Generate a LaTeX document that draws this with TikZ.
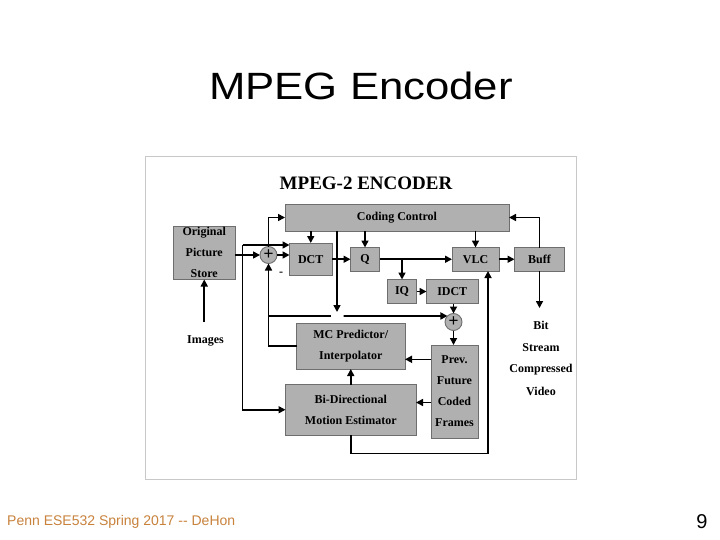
\documentclass[tikz,border=0pt]{standalone}
\usepackage{fontspec}
\setmainfont{Liberation Serif}
\newfontfamily\arialf{Liberation Sans}
\usetikzlibrary{arrows.meta}
\definecolor{boxfill}{RGB}{176,176,176}
\definecolor{boxline}{RGB}{110,110,110}
\definecolor{framec}{RGB}{200,200,200}
\definecolor{footc}{RGB}{200,130,60}
\begin{document}
\begin{tikzpicture}[x=1pt,y=-1pt,
  blk/.style={draw=boxline, fill=boxfill, line width=0.9pt, inner sep=0pt, outer sep=0pt,
    font=\fontsize{12}{21}\selectfont\bfseries, align=center},
  sumc/.style={circle, draw=boxline, fill=boxfill, line width=0.9pt, minimum size=17pt,
    inner sep=0pt, outer sep=0pt, font=\arialf\fontsize{17}{17}\selectfont},
  conn/.style={line width=1.6pt, -{Triangle[length=7pt,width=7pt]}},
  wire/.style={line width=1.6pt},
  lbl/.style={font=\fontsize{12}{21}\selectfont\bfseries, align=center, inner sep=0pt}
]
\useasboundingbox (0,0) rectangle (720,540);
\fill[white] (0,0) rectangle (720,540);

% slide texts
\node[font=\arialf\fontsize{38}{38}\selectfont, xscale=1.15, inner sep=0pt] (stitle) at (361,86) {MPEG Encoder};
\node[font=\arialf\fontsize{14}{14}\selectfont, text=footc, anchor=west, inner sep=0pt] (foot) at (7,522) {Penn ESE532 Spring 2017 \mbox{-}\mbox{-} DeHon};
\node[font=\arialf\fontsize{20}{20}\selectfont, inner sep=0pt] (pg) at (702,522) {9};

% frame of the figure
\node[draw=framec, line width=0.8pt, minimum width=431pt, minimum height=323pt, inner sep=0pt] (frame) at (360.5,317.5) {};

\node[font=\fontsize{19}{19}\selectfont\bfseries, inner sep=0pt] (dtitle) at (366,183.5) {MPEG-2 ENCODER};

% blocks
\node[blk, minimum width=224pt, minimum height=27pt] (cc) at (397,217.5) {Coding Control};
\node[blk, minimum width=61.5pt, minimum height=53.5pt] (ops) at (204.25,252.75) {Original\\Picture\\Store};
\node[blk, minimum width=42.5pt, minimum height=32.5pt] (dct) at (310.75,259.25) {DCT};
\node[blk, minimum width=29pt, minimum height=23.5pt] (q) at (365,259.25) {Q};
\node[blk, minimum width=47pt, minimum height=23.5pt] (vlc) at (475.5,259.25) {VLC};
\node[blk, minimum width=50pt, minimum height=23.5pt] (buff) at (539.5,259.25) {Buff};
\node[blk, minimum width=29pt, minimum height=24pt] (iq) at (402,291.5) {IQ};
\node[blk, minimum width=51.5pt, minimum height=24pt] (idct) at (452.25,291.5) {IDCT};
\node[blk, minimum width=108.5pt, minimum height=46pt] (mc) at (350.75,346) {MC Predictor/\\Interpolator};
\node[blk, minimum width=47pt, minimum height=93pt] (prev) at (454.5,391.5) {Prev.\\Future\\Coded\\Frames};
\node[blk, minimum width=130.5pt, minimum height=50.5pt] (bde) at (350.75,409.75) {Bi-Directional\\Motion Estimator};
\node[sumc] (p1) at (268.5,255) {+};
\node[sumc] (p2) at (453.5,322) {+};

% labels
\node[lbl] (imgs) at (205.5,340.7) {Images};
\node[lbl] (bit) at (541,325.6) {Bit};
\node[lbl] (stream) at (541,347.5) {Stream};
\node[lbl] (compr) at (541,369.2) {Compressed};
\node[lbl] (video) at (541,391) {Video};
\node[lbl] (minus) at (281,273.5) {-};

% coordinates
\coordinate (j1) at (242.5,245);
\coordinate (b1) at (268.5,316);
\coordinate (g1) at (330.5,316);
\coordinate (g2) at (343.5,316);
\coordinate (ccd) at (337,312);
\coordinate (bsd) at (539.5,308);
\coordinate (pm) at ([yshift=32.2pt]prev.west);
\coordinate (pb) at ([yshift=-11pt]prev.west);
\coordinate (vb) at ([xshift=12.5pt]vlc.south);
\coordinate (lowc) at (350.75,453.5);
\coordinate (imgtop) at (204.25,322);

% connectors
\draw[conn] (imgtop) -- (ops.south);
\draw[conn] (ops.east |- p1.west) -- (p1.west);
\draw[conn] (p1.east) -- (p1.east -| dct.west);
\draw[conn] (p1.north) |- (cc.west);
\draw[conn] (j1) -- (j1 -| dct.west);
\draw[conn] (j1) |- (bde.west);
\draw[conn] (mc.west) -| (p1.south);
\draw[wire] (b1) -- (g1);
\draw[conn] (g2) -- (p2.135);
\draw[conn] (cc.south -| ccd) -- (ccd);
\draw[conn] (cc.south -| dct.north) -- (dct.north);
\draw[conn] (cc.south -| q.north) -- (q.north);
\draw[conn] (cc.south -| vlc.north) -- (vlc.north);
\draw[conn] (dct.east |- q.west) -- (q.west);
\draw[conn] (q.east) -- (vlc.west);
\draw[conn] (q.east -| iq.north) -- (iq.north);
\draw[conn] (iq.east) -- (idct.west);
\draw[conn] (idct.south -| p2.north) -- (p2.north);
\draw[conn] (p2.south) -- (p2.south |- prev.north);
\draw[conn] (vlc.east) -- (buff.west);
\draw[conn] (buff.north) |- (cc.east);
\draw[conn] (buff.south) -- (bsd);
\draw[conn] (pm) -- (pm -| mc.east);
\draw[conn] (pb) -- (pb -| bde.east);
\draw[conn] (bde.north) -- (mc.south);
\draw[conn] (bde.south) -- (lowc) -| (vb);
\end{tikzpicture}
\end{document}
